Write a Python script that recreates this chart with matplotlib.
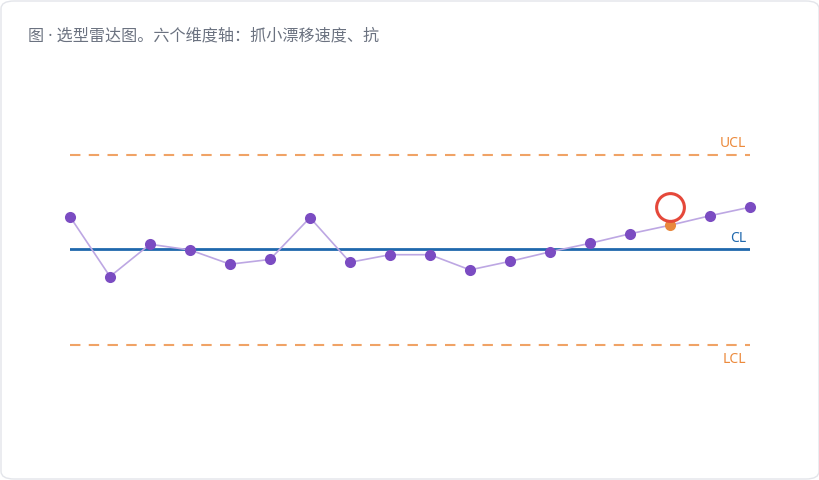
import matplotlib
matplotlib.use("Agg")
import matplotlib.pyplot as plt
from matplotlib.patches import FancyBboxPatch

plt.rcParams['font.family'] = ['Noto Sans CJK SC', 'DejaVu Sans']

# data
title = "图 · 选型雷达图。六个维度轴：抓小漂移速度、抗"
values = [53.4, 47.1, 50.5, 49.9, 48.4, 48.9, 53.3, 48.6, 49.4, 49.4,
          47.8, 48.7, 49.7, 50.6, 51.6, 52.5, 53.5, 54.4]
highlight_index = 15
center_line = 50.0
upper_limit = 59.9
lower_limit = 39.9

W, H = 820, 480
fig = plt.figure(figsize=(W / 100, H / 100), dpi=100)
fig.patch.set_facecolor("white")

# card frame
card = FancyBboxPatch((1 / W, 1 / H), (W - 2) / W, (H - 2) / H,
                      boxstyle="round,pad=0,rounding_size=0.016",
                      transform=fig.transFigure, facecolor="white",
                      edgecolor="#e3e5ea", linewidth=1.0, zorder=-10)
fig.patches.append(card)

# latin family first so the middle dot stays narrow
fig.text(28 / W, 1 - 36 / H, title, fontsize=11.6, color="#6b7280",
         ha="left", va="center", family=['Noto Sans', 'Noto Sans CJK SC'])

# axes placed in pixel space: x from 70 to 750, y from 110 to 390
ax = fig.add_axes([70 / W, 1 - 390 / H, 680 / W, 280 / H])
ax.set_facecolor("none")
ax.set_zorder(5)
n = len(values)
xs = list(range(n))
ax.set_xlim(0, n - 1)
px_per_unit = 9.5
ax.set_ylim(center_line - (390 - 249) / px_per_unit,
            center_line + (249 - 110) / px_per_unit)
ax.axis("off")

ax.axhline(upper_limit, color="#f0a366", linestyle=(0, (5, 4)), linewidth=1.5, zorder=1)
ax.axhline(lower_limit, color="#f0a366", linestyle=(0, (5, 4)), linewidth=1.5, zorder=1)
ax.axhline(center_line, color="#1f68ad", linewidth=2, zorder=2)

ax.plot(xs, values, color="#bda7e3", linewidth=1.2, zorder=3, clip_on=False)
normal = [i for i in xs if i != highlight_index]
ax.scatter(normal, [values[i] for i in normal], s=64, color="#7b4cc2",
           zorder=4, clip_on=False, linewidths=0)
ax.scatter([highlight_index], [values[highlight_index]], s=64,
           color="#e8883e", zorder=4, linewidths=0)

# ring above the flagged point
ax.plot([highlight_index], [values[highlight_index] + 18 / px_per_unit],
        marker="o", markersize=20, markerfacecolor="none",
        markeredgecolor="#e5483a", markeredgewidth=2.2, zorder=5)

lab_font = ['Noto Sans', 'DejaVu Sans']
ax.text(n - 1.1, upper_limit + 11 / px_per_unit, "UCL", color="#ec8a3c",
        fontsize=10, ha="right", va="center", family=lab_font)
ax.text(n - 1.1, center_line + 11 / px_per_unit, "CL", color="#1f68ad",
        fontsize=10, ha="right", va="center", family=lab_font)
ax.text(n - 1.1, lower_limit - 15 / px_per_unit, "LCL", color="#ec8a3c",
        fontsize=10, ha="right", va="center", family=lab_font)

fig.savefig("out.png", dpi=100, facecolor="white")
